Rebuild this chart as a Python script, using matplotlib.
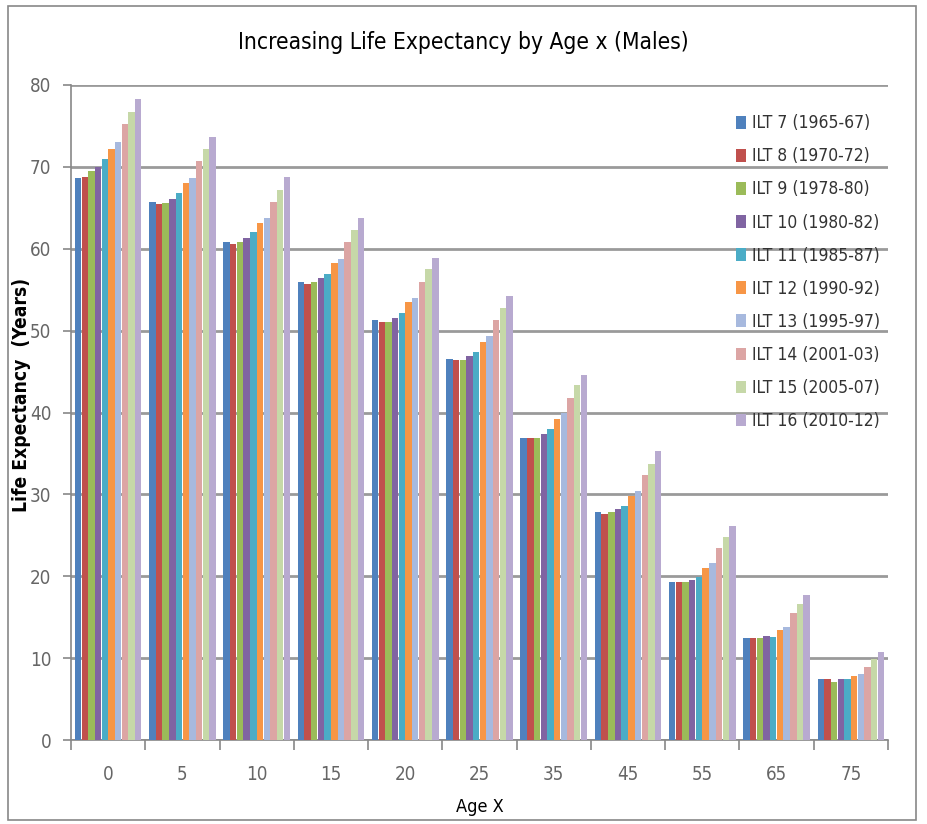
import matplotlib
matplotlib.use("Agg")
import matplotlib.pyplot as plt
import numpy as np
from matplotlib.patches import Rectangle
from matplotlib import font_manager

ages = ["0", "5", "10", "15", "20", "25", "35", "45", "55", "65", "75"]
series = ["ILT 7 (1965-67)", "ILT 8 (1970-72)", "ILT 9 (1978-80)",
          "ILT 10 (1980-82)", "ILT 11 (1985-87)", "ILT 12 (1990-92)",
          "ILT 13 (1995-97)", "ILT 14 (2001-03)", "ILT 15 (2005-07)",
          "ILT 16 (2010-12)"]

ilt7 = [68.7, 65.7, 60.8, 56.0, 51.3, 46.5, 36.9, 27.8, 19.3, 12.4, 7.4]
ilt8 = [68.8, 65.5, 60.6, 55.7, 51.0, 46.4, 36.9, 27.6, 19.3, 12.4, 7.4]
ilt9 = [69.5, 65.6, 60.8, 55.9, 51.0, 46.4, 36.9, 27.8, 19.3, 12.4, 7.1]
ilt10 = [70.0, 66.1, 61.3, 56.4, 51.6, 46.9, 37.4, 28.2, 19.6, 12.7, 7.4]
ilt11 = [71.0, 66.8, 62.0, 56.9, 52.2, 47.4, 38.0, 28.6, 19.9, 12.6, 7.4]
ilt12 = [72.2, 68.0, 63.1, 58.3, 53.5, 48.6, 39.2, 29.8, 21.0, 13.4, 7.8]
ilt13 = [73.0, 68.6, 63.7, 58.7, 54.0, 49.3, 39.9, 30.4, 21.6, 13.8, 8.1]
ilt14 = [75.2, 70.7, 65.7, 60.8, 56.0, 51.3, 41.8, 32.4, 23.4, 15.5, 8.9]
ilt15 = [76.7, 72.2, 67.2, 62.3, 57.5, 52.8, 43.3, 33.7, 24.8, 16.6, 9.9]
ilt16 = [78.3, 73.7, 68.8, 63.8, 58.9, 54.2, 44.6, 35.3, 26.1, 17.7, 10.7]
values = [ilt7, ilt8, ilt9, ilt10, ilt11, ilt12, ilt13, ilt14, ilt15, ilt16]

colors = ["#4F81BD", "#C0504D", "#9BBB59", "#8064A2", "#4BACC6",
          "#F79646", "#A7B9DE", "#DCA5A4", "#C6D8A8", "#B8AAD0"]


def narrow_font(bold=False):
    """Pick a condensed sans face if one is installed."""
    want = "bold" if bold else "normal"
    for f in font_manager.fontManager.ttflist:
        if f.style != "normal":
            continue
        wt = "bold" if (f.weight in (600, 700, 800, "bold")) else "normal"
        if wt != want:
            continue
        if "Narrow" in f.name or "Condensed" in f.name or f.stretch == "condensed":
            return font_manager.FontProperties(fname=f.fname)
    return None


fp = narrow_font()
fpb = narrow_font(bold=True)
squeeze = 1.0 if fp is not None else 0.86


def props(size, bold=False):
    base = fpb if bold else fp
    if base is None:
        return font_manager.FontProperties(family="DejaVu Sans", size=size * squeeze,
                                           weight="bold" if bold else "normal")
    p = base.copy()
    p.set_size(size)
    return p


fig = plt.figure(figsize=(9.27, 8.24), dpi=100)
ax = fig.add_axes([71 / 927, 1 - 740 / 824, (888 - 71) / 927, (740 - 85) / 824])

x = np.arange(len(ages))
w = 0.09
for i, (vals, col, name) in enumerate(zip(values, colors, series)):
    ax.bar(x - 0.45 + w * (i + 0.5), vals, width=w * 0.96, color=col,
           label=name, zorder=3)

ax.set_xlim(-0.5, len(ages) - 0.5)
ax.set_ylim(0, 80)
ax.set_yticks(np.arange(0, 81, 10))
ax.set_xticks(x)
ax.set_xticklabels(ages)
ax.set_xticks(np.arange(-0.5, len(ages), 1), minor=True)
ax.tick_params(axis="x", which="major", length=0, pad=18, labelcolor="#666666")
ax.tick_params(axis="x", which="minor", length=7, color="#888888", width=1.2)
ax.tick_params(axis="y", length=6, color="#888888", width=1.2,
               labelcolor="#666666", pad=8)
for lbl in ax.get_xticklabels() + ax.get_yticklabels():
    lbl.set_fontproperties(props(13.5))
ax.grid(axis="y", color="#9a9a9a", linewidth=2, zorder=0)
for side in ("top", "right"):
    ax.spines[side].set_visible(False)
for side in ("left", "bottom"):
    ax.spines[side].set_color("#888888")
    ax.spines[side].set_linewidth(1.2)

ax.set_xlabel("Age X", fontproperties=props(13))
ax.xaxis.set_label_coords(0.5, -58 / 655)
ax.set_ylabel("Life Expectancy  (Years)", fontproperties=props(13.8, bold=True))
ax.yaxis.set_label_coords(-40 / 817, 345 / 655)
fig.text(0.5, 1 - 42 / 824, "Increasing Life Expectancy by Age x (Males)",
         ha="center", va="center", fontproperties=props(16.3))

leg = ax.legend(loc="upper left", bbox_to_anchor=(0.805, 0.966), frameon=False,
                prop=props(12.5), handlelength=0.6, handleheight=0.75,
                handletextpad=0.35, labelspacing=0.87, borderaxespad=0)
for t in leg.get_texts():
    t.set_color("#333333")

fig.patches.append(Rectangle((8 / 927, 4 / 824), 908 / 927, 814 / 824,
                             transform=fig.transFigure, fill=False,
                             edgecolor="#888888", linewidth=1.2))

fig.savefig("out.png", dpi=100)
